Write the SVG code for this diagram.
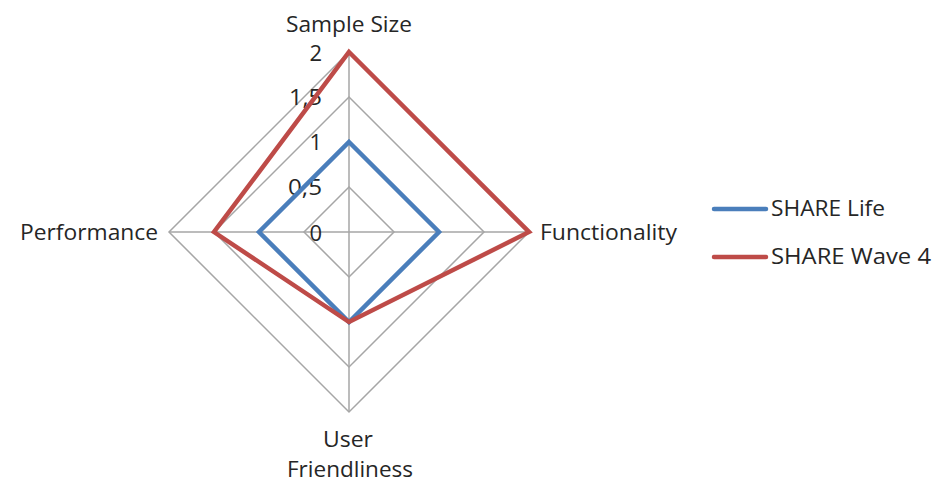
<svg xmlns="http://www.w3.org/2000/svg" width="932" height="484" viewBox="0 0 932 484">
<style>
text{font-family:"Open Sans","Liberation Sans",sans-serif;font-size:22px;fill:#262626}
.grid{fill:none;stroke:#a6a6a6;stroke-width:1.5}
.s{fill:none;stroke-width:4.5;stroke-linejoin:miter;stroke-linecap:round}
.blue{stroke:#4a7ebb}
.red{stroke:#be4b48}
.tick{text-anchor:end}
</style>
<rect width="932" height="484" fill="#ffffff"/>
<g id="grid">
<polygon class="grid" points="349,187 394,232 349,277 304,232"/>
<polygon class="grid" points="349,142 439,232 349,322 259,232"/>
<polygon class="grid" points="349,97 484,232 349,367 214,232"/>
<polygon class="grid" points="349,52 529,232 349,412 169,232"/>
<line class="grid" x1="349" y1="52" x2="349" y2="412"/>
<line class="grid" x1="169" y1="232" x2="529" y2="232"/>
</g>
<g id="ticks">
<text class="tick" x="322" y="61">2</text>
<text class="tick" x="322" y="105" textLength="33" lengthAdjust="spacingAndGlyphs">1,5</text>
<text class="tick" x="322" y="150">1</text>
<text class="tick" x="322" y="195" textLength="34" lengthAdjust="spacingAndGlyphs">0,5</text>
<text class="tick" x="322" y="241">0</text>
</g>
<g id="axis-labels">
<text id="sample-size" x="286" y="32" textLength="126" lengthAdjust="spacingAndGlyphs">Sample Size</text>
<text id="functionality" x="540" y="240" textLength="137" lengthAdjust="spacingAndGlyphs">Functionality</text>
<text id="performance" x="20" y="240" textLength="138" lengthAdjust="spacingAndGlyphs">Performance</text>
<text id="user" x="323" y="447" textLength="50" lengthAdjust="spacingAndGlyphs">User</text>
<text id="friendliness" x="287" y="477" textLength="126" lengthAdjust="spacingAndGlyphs">Friendliness</text>
</g>
<g id="series">
<polygon id="share-life" class="s blue" points="349,142 439,232 349,322 259,232"/>
<polygon id="share-wave4" class="s red" points="349,52 529,232 349,322 214,232"/>
</g>
<g id="legend">
<line class="s blue" x1="714" y1="209" x2="766" y2="209"/>
<text x="771" y="216" textLength="114" lengthAdjust="spacingAndGlyphs">SHARE Life</text>
<line class="s red" x1="714" y1="257" x2="766" y2="257"/>
<text x="771" y="264" textLength="160" lengthAdjust="spacingAndGlyphs">SHARE Wave 4</text>
</g>
</svg>
